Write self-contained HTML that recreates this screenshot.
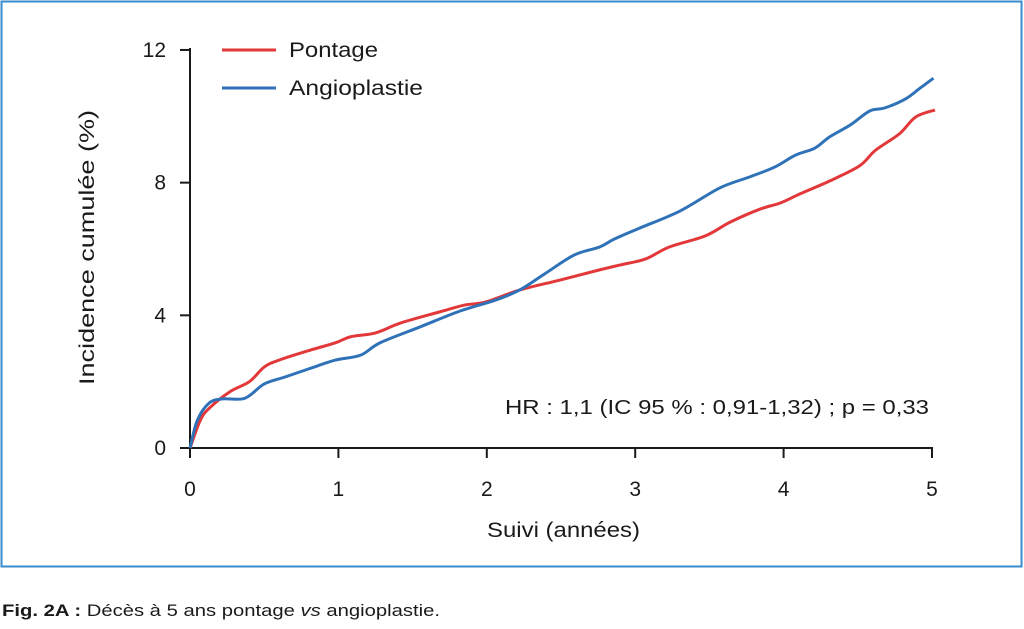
<!DOCTYPE html>
<html><head><meta charset="utf-8">
<style>
body{margin:0;width:1024px;height:624px;background:#fff;overflow:hidden;font-family:"Liberation Sans",sans-serif;}
svg text{font-family:"Liberation Sans",sans-serif;fill:#1a1a1a;}
</style></head>
<body>
<svg id="chart" width="1024" height="624" viewBox="0 0 1024 624" xmlns="http://www.w3.org/2000/svg">
<rect x="1.5" y="1.5" width="1020" height="565" fill="none" stroke="#3b8ccc" stroke-width="2"/>
<g id="axes"></g>
<g id="series"></g>
<g>
<line x1="222" y1="50" x2="276" y2="50" stroke="#e2383a" stroke-width="3"/>
<text x="289" y="57" font-size="21" textLength="89" lengthAdjust="spacingAndGlyphs">Pontage</text>
<line x1="222" y1="88" x2="276" y2="88" stroke="#2f72b8" stroke-width="3"/>
<text x="289" y="95" font-size="21" textLength="134" lengthAdjust="spacingAndGlyphs">Angioplastie</text>
</g>
<text x="505" y="414" font-size="20" textLength="424" lengthAdjust="spacingAndGlyphs">HR : 1,1 (IC 95 % : 0,91-1,32) ; p = 0,33</text>
<text x="487" y="537" font-size="21" textLength="153" lengthAdjust="spacingAndGlyphs">Suivi (années)</text>
<text transform="translate(94,385) rotate(-90)" font-size="21" textLength="275" lengthAdjust="spacingAndGlyphs">Incidence cumulée (%)</text>
<text x="2" y="616" font-size="17" textLength="438" lengthAdjust="spacingAndGlyphs"><tspan font-weight="bold">Fig. 2A :</tspan> Décès à 5 ans pontage <tspan font-style="italic">vs</tspan> angioplastie.</text>
</svg>
<script>
const xTicks=[0,1,2,3,4,5];
const yTicks=[0,4,8,12];
const pontageT=[0,0.07,0.13,0.27,0.4,0.5,0.6,0.81,0.98,1.08,1.25,1.42,1.68,1.85,1.99,2.22,2.49,2.76,2.9,3.07,3.23,3.47,3.64,3.84,3.98,4.11,4.31,4.51,4.62,4.78,4.89,5.02];
const pontageV=[0,0.84,1.2,1.7,2.0,2.44,2.65,2.95,3.17,3.35,3.47,3.77,4.1,4.31,4.4,4.76,5.06,5.37,5.52,5.7,6.06,6.39,6.81,7.2,7.39,7.66,8.05,8.5,8.98,9.47,9.98,10.19];
const angioT=[0,0.05,0.13,0.22,0.37,0.5,0.64,0.81,0.98,1.15,1.28,1.55,1.82,2.06,2.22,2.39,2.59,2.76,2.86,3.03,3.3,3.57,3.77,3.94,4.08,4.21,4.31,4.45,4.58,4.68,4.82,4.92,5.01];
const angioV=[0,0.84,1.36,1.48,1.5,1.93,2.14,2.4,2.65,2.8,3.17,3.65,4.13,4.46,4.76,5.25,5.82,6.06,6.3,6.63,7.14,7.84,8.17,8.47,8.83,9.04,9.38,9.74,10.16,10.25,10.52,10.85,11.15];
const X=t=>190+t*148.4;
const Y=v=>448-v*33.17;
const NS="http://www.w3.org/2000/svg";
const axes=document.getElementById('axes');
function mk(tag,attrs,parent){const e=document.createElementNS(NS,tag);for(const k in attrs)e.setAttribute(k,attrs[k]);parent.appendChild(e);return e;}
let e=mk('line',{x1:X(0),y1:Y(12)-2,x2:X(0),y2:Y(0),stroke:'#1a1a1a','stroke-width':2},axes);


e=mk('line',{x1:X(0)-1,y1:Y(0),x2:X(5)+1,y2:Y(0),stroke:'#1a1a1a','stroke-width':2},axes);


xTicks.forEach(t=>{
 const l=mk('line',{x1:X(t),y1:Y(0),x2:X(t),y2:Y(0)+10,stroke:'#1a1a1a','stroke-width':2},axes);
 
 
 const tx=mk('text',{x:X(t),y:496,'font-size':21,'text-anchor':'middle'},axes);
 tx.textContent=t;
 
 
});
yTicks.forEach(v=>{
 const l=mk('line',{x1:X(0)-10,y1:Y(v),x2:X(0),y2:Y(v),stroke:'#1a1a1a','stroke-width':2},axes);
 
 
 const tx=mk('text',{x:166,y:Y(v)+7,'font-size':21,'text-anchor':'end'},axes);
 tx.textContent=v;
 
 
});
const series=document.getElementById('series');
function path(ts,vs){
 const p=ts.map((t,i)=>[X(t),Y(vs[i])]);
 let d='M'+p[0][0]+','+p[0][1];
 for(let i=0;i<p.length-1;i++){
  const p0=p[Math.max(0,i-1)],p1=p[i],p2=p[i+1],p3=p[Math.min(p.length-1,i+2)];
  const c1=[p1[0]+(p2[0]-p0[0])/6,p1[1]+(p2[1]-p0[1])/6];
  const c2=[p2[0]-(p3[0]-p1[0])/6,p2[1]-(p3[1]-p1[1])/6];
  d+=' C'+c1+' '+c2+' '+p2;
 }
 return d;
}
e=mk('path',{d:path(pontageT,pontageV),fill:'none',stroke:'#e2383a','stroke-width':3,'stroke-linejoin':'round'},series);


e=mk('path',{d:path(angioT,angioV),fill:'none',stroke:'#2f72b8','stroke-width':3,'stroke-linejoin':'round'},series);


</script>
</body></html>
